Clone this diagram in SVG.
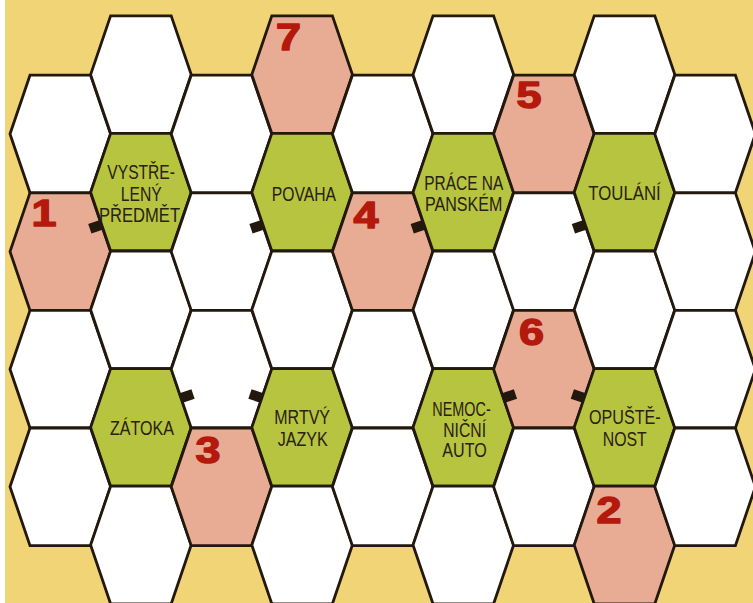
<svg xmlns="http://www.w3.org/2000/svg" xmlns:xlink="http://www.w3.org/1999/xlink" width="753" height="603" viewBox="0 0 753 603">
<style>
.w{fill:#ffffff}
.p{fill:#e8ab93}
.g{fill:#b7c43f}
.hx{stroke:#22180d;stroke-width:2.8;stroke-linejoin:miter}
.lb{font-family:"Liberation Sans",Arial,sans-serif;font-size:19.5px;fill:#2a2116}
.num{font-family:"Liberation Sans",Arial,sans-serif;font-size:36px;font-weight:bold;fill:#b3190c;stroke:#b3190c;stroke-width:1.4;stroke-linejoin:round}
.tab{fill:#22180d}
</style>
<defs>
<path id="hex" d="M-50.3 0 L-30.3 -58.8 L30.3 -58.8 L50.3 0 L30.3 58.8 L-30.3 58.8 Z"/>
<rect id="tab" x="0" y="-5" width="12.5" height="10"/>
</defs>
<rect width="753" height="603" fill="#ffffff"/>
<rect x="5" y="0" width="748" height="603" fill="#f1d475"/>

<g id="hexes">
<g id="c1r0"><use xlink:href="#hex" class="hx w" transform="translate(60.3,134)"/></g>
<g id="c1r1"><use xlink:href="#hex" class="hx p" transform="translate(60.3,251.6)"/><text class="num" x="31.5" y="226" textLength="25" lengthAdjust="spacingAndGlyphs">1</text></g>
<g id="c1r2"><use xlink:href="#hex" class="hx w" transform="translate(60.3,369.2)"/></g>
<g id="c1r3"><use xlink:href="#hex" class="hx w" transform="translate(60.3,486.8)"/></g>

<g id="c2r0"><use xlink:href="#hex" class="hx w" transform="translate(140.9,74.6)"/></g>
<g id="c2r1"><use xlink:href="#hex" class="hx g" transform="translate(140.9,192.2)"/>
<text class="lb" x="107.3" y="179" textLength="67.7" lengthAdjust="spacingAndGlyphs">VYSTŘE-</text>
<text class="lb" x="120.7" y="200.5" textLength="41" lengthAdjust="spacingAndGlyphs">LENÝ</text>
<text class="lb" x="99" y="222" textLength="81" lengthAdjust="spacingAndGlyphs">PŘEDMĚT</text></g>
<g id="c2r2"><use xlink:href="#hex" class="hx w" transform="translate(140.9,309.8)"/></g>
<g id="c2r3"><use xlink:href="#hex" class="hx g" transform="translate(140.9,427.4)"/>
<text class="lb" x="110" y="435" textLength="64" lengthAdjust="spacingAndGlyphs">ZÁTOKA</text></g>
<g id="c2r4"><use xlink:href="#hex" class="hx w" transform="translate(140.9,545)"/></g>

<g id="c3r0"><use xlink:href="#hex" class="hx w" transform="translate(221.5,134)"/></g>
<g id="c3r1"><use xlink:href="#hex" class="hx w" transform="translate(221.5,251.6)"/></g>
<g id="c3r2"><use xlink:href="#hex" class="hx w" transform="translate(221.5,369.2)"/></g>
<g id="c3r3"><use xlink:href="#hex" class="hx p" transform="translate(221.5,486.8)"/><text class="num" x="195.5" y="462.7" textLength="25" lengthAdjust="spacingAndGlyphs">3</text></g>

<g id="c4r0"><use xlink:href="#hex" class="hx p" transform="translate(302.1,74.6)"/><text class="num" x="276" y="50" textLength="25" lengthAdjust="spacingAndGlyphs">7</text></g>
<g id="c4r1"><use xlink:href="#hex" class="hx g" transform="translate(302.1,192.2)"/>
<text class="lb" x="271.7" y="200.7" textLength="64.3" lengthAdjust="spacingAndGlyphs">POVAHA</text></g>
<g id="c4r2"><use xlink:href="#hex" class="hx w" transform="translate(302.1,309.8)"/></g>
<g id="c4r3"><use xlink:href="#hex" class="hx g" transform="translate(302.1,427.4)"/>
<text class="lb" x="274.3" y="424.3" textLength="55.7" lengthAdjust="spacingAndGlyphs">MRTVÝ</text>
<text class="lb" x="277.7" y="446" textLength="50" lengthAdjust="spacingAndGlyphs">JAZYK</text></g>
<g id="c4r4"><use xlink:href="#hex" class="hx w" transform="translate(302.1,545)"/></g>

<g id="c5r0"><use xlink:href="#hex" class="hx w" transform="translate(382.7,134)"/></g>
<g id="c5r1"><use xlink:href="#hex" class="hx p" transform="translate(382.7,251.6)"/><text class="num" x="353.5" y="228.3" textLength="25" lengthAdjust="spacingAndGlyphs">4</text></g>
<g id="c5r2"><use xlink:href="#hex" class="hx w" transform="translate(382.7,369.2)"/></g>
<g id="c5r3"><use xlink:href="#hex" class="hx w" transform="translate(382.7,486.8)"/></g>

<g id="c6r0"><use xlink:href="#hex" class="hx w" transform="translate(463.3,74.6)"/></g>
<g id="c6r1"><use xlink:href="#hex" class="hx g" transform="translate(463.3,192.2)"/>
<text class="lb" x="424.3" y="190" textLength="79" lengthAdjust="spacingAndGlyphs">PRÁCE NA</text>
<text class="lb" x="425" y="210.7" textLength="77.3" lengthAdjust="spacingAndGlyphs">PANSKÉM</text></g>
<g id="c6r2"><use xlink:href="#hex" class="hx w" transform="translate(463.3,309.8)"/></g>
<g id="c6r3"><use xlink:href="#hex" class="hx g" transform="translate(463.3,427.4)"/>
<text class="lb" x="432.3" y="416" textLength="58.4" lengthAdjust="spacingAndGlyphs">NEMOC-</text>
<text class="lb" x="443.3" y="436.7" textLength="42.7" lengthAdjust="spacingAndGlyphs">NIČNÍ</text>
<text class="lb" x="442.3" y="457.3" textLength="44.4" lengthAdjust="spacingAndGlyphs">AUTO</text></g>
<g id="c6r4"><use xlink:href="#hex" class="hx w" transform="translate(463.3,545)"/></g>

<g id="c7r0"><use xlink:href="#hex" class="hx p" transform="translate(543.9,134)"/><text class="num" x="516.5" y="108.3" textLength="25" lengthAdjust="spacingAndGlyphs">5</text></g>
<g id="c7r1"><use xlink:href="#hex" class="hx w" transform="translate(543.9,251.6)"/></g>
<g id="c7r2"><use xlink:href="#hex" class="hx p" transform="translate(543.9,369.2)"/><text class="num" x="519" y="345" textLength="25" lengthAdjust="spacingAndGlyphs">6</text></g>
<g id="c7r3"><use xlink:href="#hex" class="hx w" transform="translate(543.9,486.8)"/></g>

<g id="c8r0"><use xlink:href="#hex" class="hx w" transform="translate(624.5,74.6)"/></g>
<g id="c8r1"><use xlink:href="#hex" class="hx g" transform="translate(624.5,192.2)"/>
<text class="lb" x="588.3" y="200" textLength="72.4" lengthAdjust="spacingAndGlyphs">TOULÁNÍ</text></g>
<g id="c8r2"><use xlink:href="#hex" class="hx w" transform="translate(624.5,309.8)"/></g>
<g id="c8r3"><use xlink:href="#hex" class="hx g" transform="translate(624.5,427.4)"/>
<text class="lb" x="589" y="424.3" textLength="71.7" lengthAdjust="spacingAndGlyphs">OPUŠTĚ-</text>
<text class="lb" x="602.7" y="446" textLength="44" lengthAdjust="spacingAndGlyphs">NOST</text></g>
<g id="c8r4"><use xlink:href="#hex" class="hx p" transform="translate(624.5,545)"/><text class="num" x="596.5" y="522.7" textLength="25" lengthAdjust="spacingAndGlyphs">2</text></g>

<g id="c9r0"><use xlink:href="#hex" class="hx w" transform="translate(705.1,134)"/></g>
<g id="c9r1"><use xlink:href="#hex" class="hx w" transform="translate(705.1,251.6)"/></g>
<g id="c9r2"><use xlink:href="#hex" class="hx w" transform="translate(705.1,369.2)"/></g>
<g id="c9r3"><use xlink:href="#hex" class="hx w" transform="translate(705.1,486.8)"/></g>
</g>

<g id="connectors">
<use xlink:href="#tab" class="tab" transform="translate(101.65,224.7) rotate(161.2)"/>
<use xlink:href="#tab" class="tab" transform="translate(262.85,224.7) rotate(161.2)"/>
<use xlink:href="#tab" class="tab" transform="translate(424.05,224.7) rotate(161.2)"/>
<use xlink:href="#tab" class="tab" transform="translate(585.25,224.7) rotate(161.2)"/>
<use xlink:href="#tab" class="tab" transform="translate(181.2,398) rotate(-18.8)"/>
<use xlink:href="#tab" class="tab" transform="translate(261.8,398) rotate(198.8)"/>
<use xlink:href="#tab" class="tab" transform="translate(503.6,398) rotate(-18.8)"/>
<use xlink:href="#tab" class="tab" transform="translate(584.2,398) rotate(198.8)"/>
</g>
</svg>
